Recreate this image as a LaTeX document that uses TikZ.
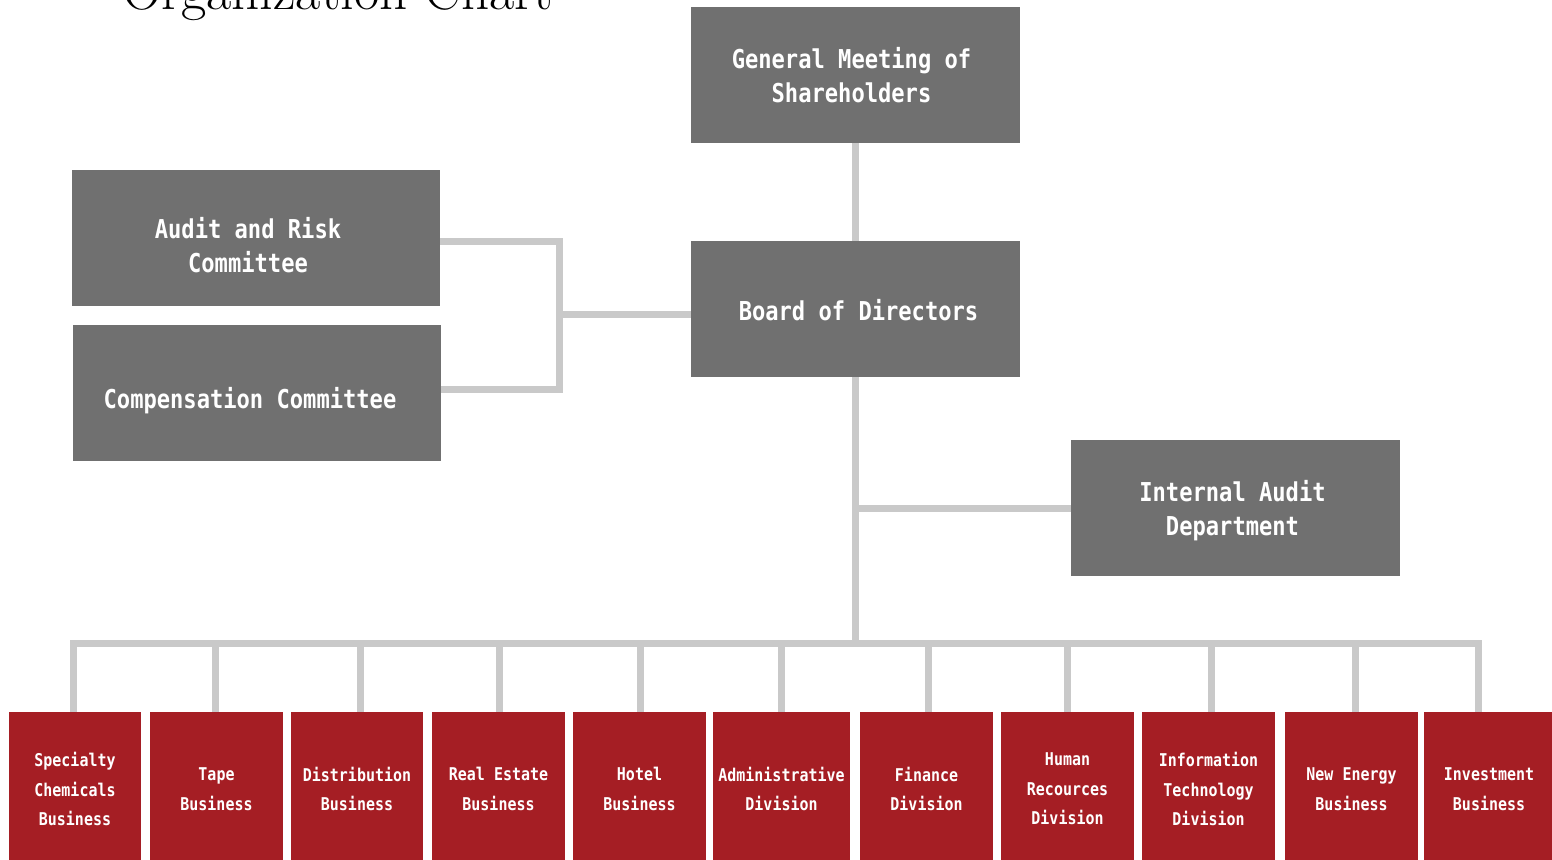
\documentclass[tikz,border=0pt]{standalone}
\usepackage{fontspec}
\newfontfamily\boxfont[FakeStretch=0.85]{DejaVu Sans Mono}
\definecolor{boxgray}{HTML}{707070}
\definecolor{unitred}{HTML}{A51E24}
\definecolor{linkgray}{HTML}{C9C9C9}
\begin{document}
\begin{tikzpicture}[x=1pt,y=-1pt,
  governance/.style={fill=boxgray, inner sep=0pt, minimum height=136pt},
  govtext/.style={text=white, inner sep=0pt, align=center,
    font=\boxfont\bfseries\fontsize{26}{34}\selectfont},
  unit/.style={fill=unitred, text=white, inner sep=0pt, align=center,
    minimum height=154pt, font=\boxfont\bfseries\fontsize{17.6}{29.5}\selectfont},
  link/.style={draw=linkgray, line width=7pt}]
\useasboundingbox (0,0) rectangle (1552,859);

% title
\node[anchor=base west, inner sep=0pt, font=\fontsize{55}{66}\selectfont] (title) at (122,10) {Organization Chart};

% governance bodies
\node[governance, minimum width=329pt] (gm) at (855.5,75) {};
\node[governance, minimum width=329pt] (board) at (855.5,309) {};
\node[governance, minimum width=368pt] (audit) at (256,238) {};
\node[governance, minimum width=368pt] (comp) at (257,393) {};
\node[governance, minimum width=329pt] (ia) at (1235.5,508) {};

\node[govtext] (gm-t) at ([xshift=-4pt]gm.center) {General Meeting of\\Shareholders};
\node[govtext] (board-t) at ([xshift=3pt,yshift=-1pt]board.center) {Board of Directors};
\node[govtext] (audit-t) at ([xshift=-8pt,yshift=-7pt]audit.center) {Audit and Risk\\Committee};
\node[govtext] (comp-t) at ([xshift=-7pt,yshift=-8pt]comp.center) {Compensation Committee};
\node[govtext] (ia-t) at ([xshift=-3pt,yshift=-3pt]ia.center) {Internal Audit\\Department};

% business units and divisions
\node[unit, minimum width=132pt] (u1) at (75,789) {Specialty\\Chemicals\\Business};
\node[unit, minimum width=133pt] (u2) at (216.5,789) {Tape\\Business};
\node[unit, minimum width=132pt] (u3) at (357,789) {Distribution\\Business};
\node[unit, minimum width=133pt] (u4) at (498.5,789) {Real Estate\\Business};
\node[unit, minimum width=133pt] (u5) at (639.5,789) {Hotel\\Business};
\node[unit, minimum width=137pt] (u6) at (781.5,789) {Administrative\\Division};
\node[unit, minimum width=133pt] (u7) at (926.5,789) {Finance\\Division};
\node[unit, minimum width=133pt] (u8) at (1067.5,789) {Human\\Recources\\Division};
\node[unit, minimum width=133pt] (u9) at (1208.5,789) {Information\\Technology\\Division};
\node[unit, minimum width=133pt] (u10) at (1351.5,789) {New Energy\\Business};
\node[unit, minimum width=130pt] (u11) at (1489,789) {Investment\\Business};

% connectors
\coordinate (bus) at (856,643);
\coordinate (jn) at (559,314);
\draw[link] (gm.south) -- (board.north);
\draw[link] (board.south) -- (board.south |- bus);
\draw[link] (board.south |- ia.west) -- (ia.west);
\draw[link] ([yshift=-3.5pt]audit.east) -| (jn) |- ([yshift=3.5pt]comp.east);
\draw[link] (jn) -- (jn -| board.west);
\draw[link] ([xshift=-2pt]u1.north) |- (bus) -| ([xshift=-11pt]u11.north);
\foreach \u/\dx in {u2/-1.5, u3/3, u4/0.5, u5/0.5, u6/-0.5, u7/1.5, u8/-0.5, u9/2.5, u10/3.5}
  \draw[link] ([xshift=\dx pt]\u.north) -- ([xshift=\dx pt]\u.north |- bus);
\end{tikzpicture}
\end{document}
